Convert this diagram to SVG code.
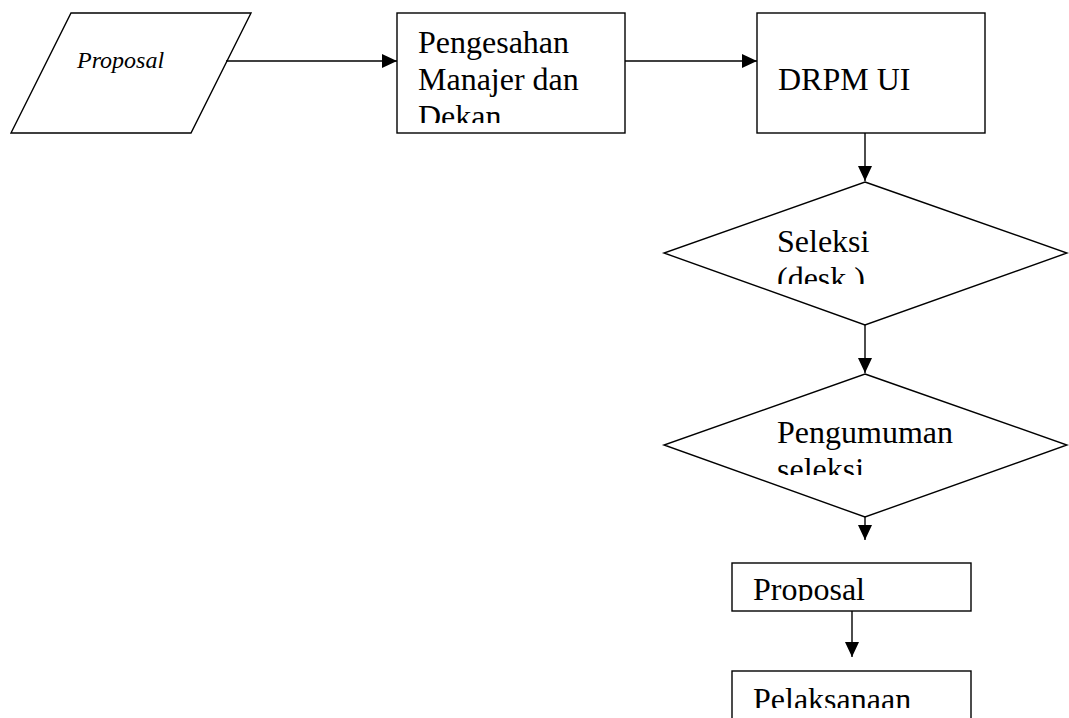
<svg xmlns="http://www.w3.org/2000/svg" width="1069" height="718" viewBox="0 0 1069 718">
<style>
.s{fill:#fff;stroke:#000;stroke-width:1.4}
.t{font-family:'Liberation Serif','Times New Roman','DejaVu Serif',serif;font-size:32px;fill:#000}
.c{stroke:#000;stroke-width:1.4;fill:none}
</style>
<defs>
<marker id="a" viewBox="0 0 15 14" refX="15" refY="7" markerWidth="15" markerHeight="14" markerUnits="userSpaceOnUse" orient="auto">
<path d="M0,0 L15,7 L0,14 z" fill="#000"/>
</marker>
<clipPath id="k1"><rect x="398" y="14" width="226" height="109"/></clipPath>
<clipPath id="k3"><rect x="700" y="150" width="300" height="134"/></clipPath>
<clipPath id="k4"><rect x="700" y="380" width="300" height="95"/></clipPath>
<clipPath id="k5"><rect x="733" y="564" width="237" height="37"/></clipPath>
<clipPath id="k6"><rect x="733" y="672" width="237" height="36"/></clipPath>
</defs>
<g id="n-proposal">
<polygon class="s" points="71,13 251,13 191,133 11,133"/>
<text class="t" x="77" y="68" font-family="Liberation Serif, serif" font-size="24" font-style="italic" style="font-size:24px">Proposal</text>
</g>
<g id="n-pengesahan">
<rect class="s" x="397" y="13" width="228" height="120"/>
<g clip-path="url(#k1)" font-family="Liberation Serif, serif">
<text class="t" x="418" y="53">Pengesahan</text>
<text class="t" x="418" y="90">Manajer dan</text>
<text class="t" x="418" y="127">Dekan</text>
</g>
</g>
<g id="n-drpm">
<rect class="s" x="757" y="13" width="228" height="120"/>
<text class="t" x="778" y="90">DRPM UI</text>
</g>
<g id="n-seleksi">
<polygon class="s" points="865,182 1067,253 865,325 664,253"/>
<g clip-path="url(#k3)">
<text class="t" x="777" y="252">Seleksi</text>
<text class="t" x="777" y="289">(desk )</text>
</g>
</g>
<g id="n-pengumuman">
<polygon class="s" points="865,374 1067,445 865,517 664,445"/>
<g clip-path="url(#k4)">
<text class="t" x="777" y="443">Pengumuman</text>
<text class="t" x="777" y="480">seleksi</text>
</g>
</g>
<g id="n-proposal2">
<rect class="s" x="732" y="563" width="239" height="48"/>
<g clip-path="url(#k5)">
<text class="t" x="753" y="600">Proposal</text>
</g>
</g>
<g id="n-pelaksanaan">
<rect class="s" x="732" y="671" width="239" height="60"/>
<g clip-path="url(#k6)">
<text class="t" x="753" y="710">Pelaksanaan</text>
</g>
</g>
<g id="connectors">
<line class="c" x1="226" y1="61" x2="397" y2="61" marker-end="url(#a)"/>
<line class="c" x1="625" y1="61" x2="757" y2="61" marker-end="url(#a)"/>
<line class="c" x1="865" y1="133" x2="865" y2="181" marker-end="url(#a)"/>
<line class="c" x1="865" y1="325" x2="865" y2="373" marker-end="url(#a)"/>
<line class="c" x1="865" y1="517" x2="865" y2="540" marker-end="url(#a)"/>
<line class="c" x1="852" y1="611" x2="852" y2="657" marker-end="url(#a)"/>
</g>
</svg>
